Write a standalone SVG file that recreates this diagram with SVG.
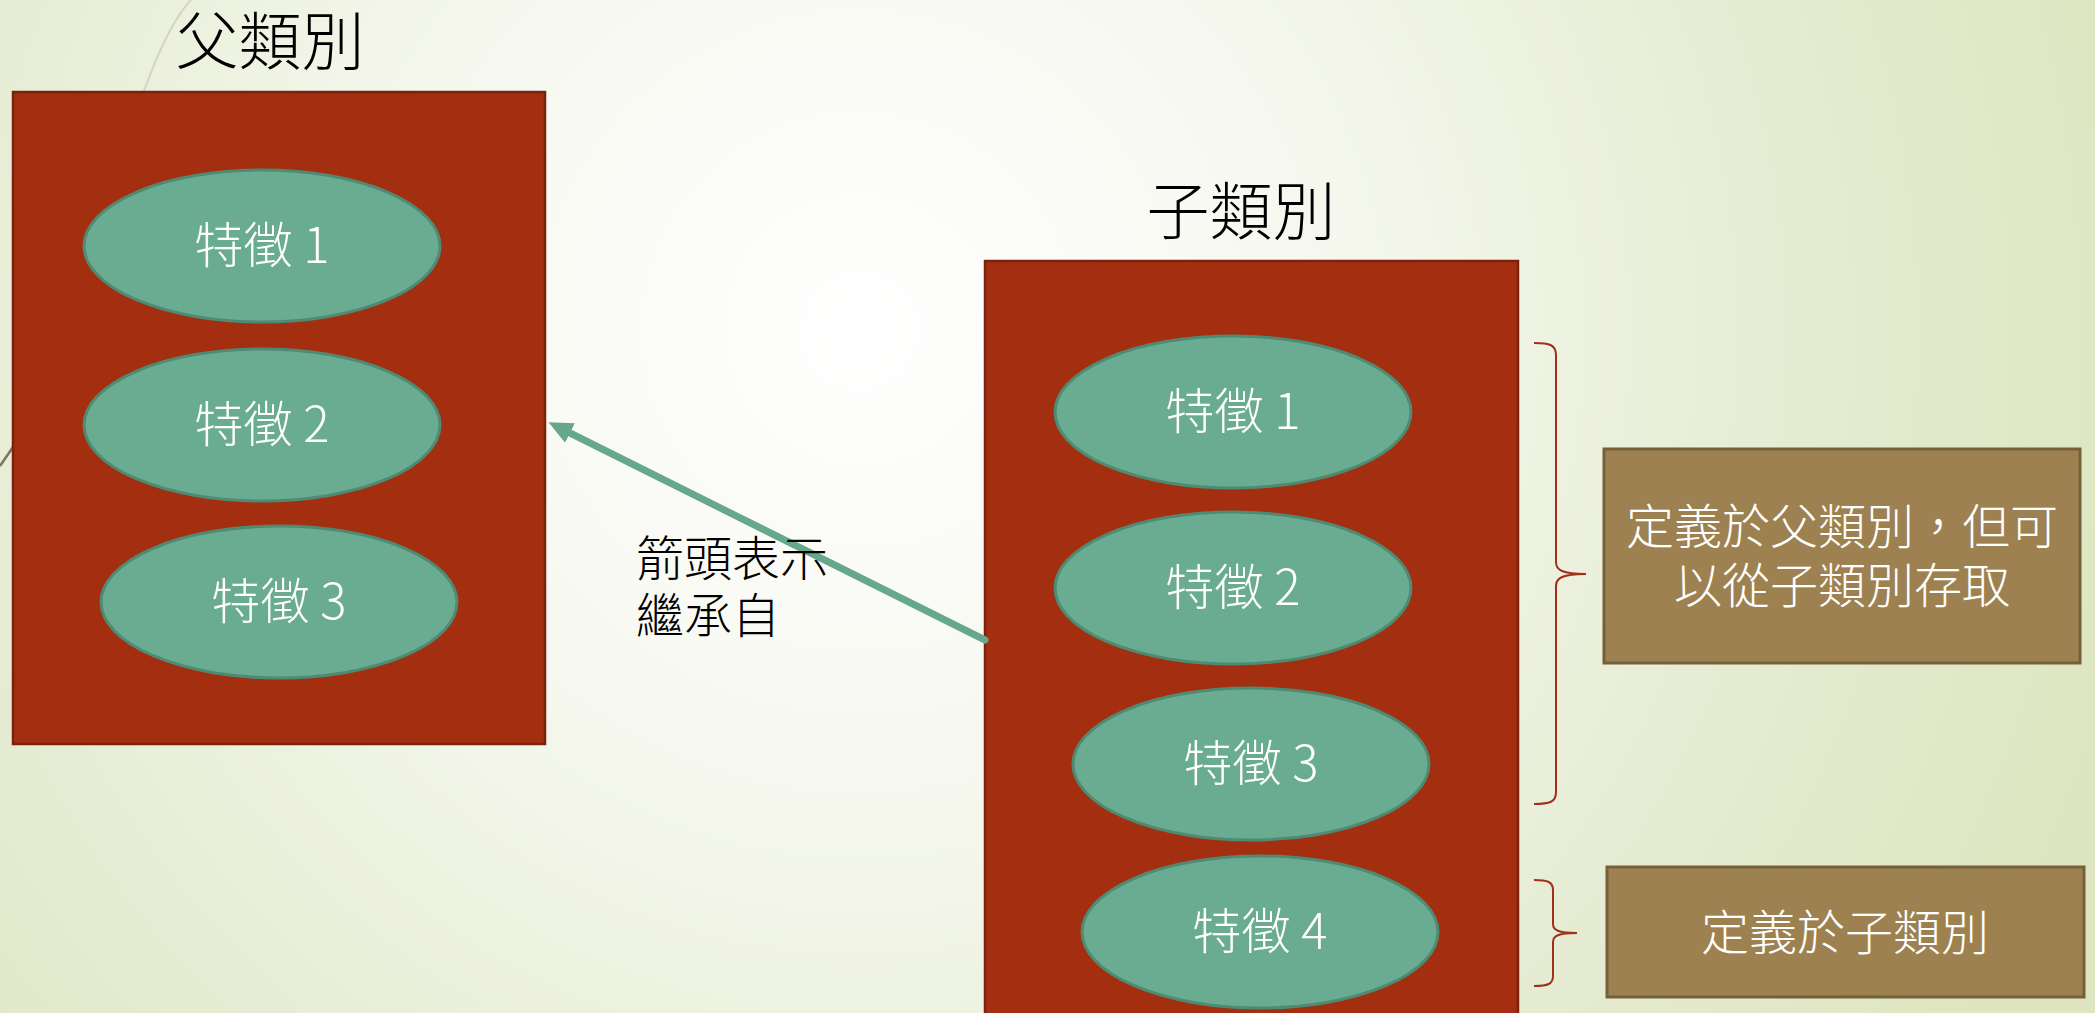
<svg xmlns="http://www.w3.org/2000/svg" width="2095" height="1013" viewBox="0 0 2095 1013">
  <defs>
    <radialGradient id="bg" cx="860" cy="330" r="1300" gradientUnits="userSpaceOnUse">
      <stop offset="0" stop-color="#FFFFFF"/>
      <stop offset="0.35" stop-color="#F6F8EF"/>
      <stop offset="0.75" stop-color="#E4EBD0"/>
      <stop offset="1" stop-color="#DDE6C0"/>
    </radialGradient>
    <marker id="head" viewBox="0 0 24 22" refX="0" refY="11" markerWidth="24" markerHeight="22" markerUnits="userSpaceOnUse" orient="auto">
      <path d="M0,0 L24,11 L0,22 z" fill="#67A88C"/>
    </marker>
    <style>
      .cls { fill: #A32E10; stroke: #7A220C; stroke-width: 2.5; }
      .feat { fill: #6AAC91; stroke: #4F8A72; stroke-width: 3; }
      .ftxt { fill: #FFFFFF; font-family: "Noto Sans CJK TC", "Noto Sans", sans-serif; font-weight: 300; font-size: 49px; text-anchor: middle; }
      .title { fill: #000000; font-family: "Noto Sans CJK TC", "Noto Sans", sans-serif; font-weight: 300; font-size: 63px; text-anchor: middle; }
      .note { fill: #9E8150; stroke: #76603A; stroke-width: 3; }
      .ntxt { fill: #FFFFFF; font-family: "Noto Sans CJK TC", sans-serif; font-weight: 300; font-size: 48px; text-anchor: middle; }
      .brace { fill: none; stroke: #A0301A; stroke-width: 2; }
      .lbl { fill: #000000; font-family: "Noto Sans CJK TC", sans-serif; font-weight: 300; font-size: 48px; }
    </style>
  </defs>

  <rect x="0" y="0" width="2095" height="1013" fill="url(#bg)"/>
  <path d="M191,0 C130,62 83,347 13,447 L0,466" fill="none" stroke="#D2D5C4" stroke-width="2"/>
  <path d="M0,466 L13,447" fill="none" stroke="#7F7560" stroke-width="2.5"/>

  <g id="parent-class">
    <text class="title" x="270" y="64">父類別</text>
    <rect class="cls" x="13" y="92" width="532" height="652"/>
  </g>
  <g id="parent-feature-1">
    <ellipse class="feat" cx="262" cy="246" rx="178" ry="76"/>
    <text class="ftxt" x="262" y="263">特徵 1</text>
  </g>
  <g id="parent-feature-2">
    <ellipse class="feat" cx="262" cy="425" rx="178" ry="76"/>
    <text class="ftxt" x="262" y="442">特徵 2</text>
  </g>
  <g id="parent-feature-3">
    <ellipse class="feat" cx="279" cy="602" rx="178" ry="76"/>
    <text class="ftxt" x="279" y="619">特徵 3</text>
  </g>

  <g id="child-class">
    <text class="title" x="1241" y="234">子類別</text>
    <rect class="cls" x="985" y="261" width="533" height="770"/>
  </g>
  <g id="child-feature-1">
    <ellipse class="feat" cx="1233" cy="412" rx="178" ry="76"/>
    <text class="ftxt" x="1233" y="429">特徵 1</text>
  </g>
  <g id="child-feature-2">
    <ellipse class="feat" cx="1233" cy="588" rx="178" ry="76"/>
    <text class="ftxt" x="1233" y="605">特徵 2</text>
  </g>
  <g id="child-feature-3">
    <ellipse class="feat" cx="1251" cy="764" rx="178" ry="76"/>
    <text class="ftxt" x="1251" y="781">特徵 3</text>
  </g>
  <g id="child-feature-4">
    <ellipse class="feat" cx="1260" cy="932" rx="178" ry="76"/>
    <text class="ftxt" x="1260" y="949">特徵 4</text>
  </g>

  <g id="note-inherited">
    <rect class="note" x="1604" y="449" width="476" height="214"/>
    <text class="ntxt" x="1842" y="544">定義於父類別，但可</text>
    <text class="ntxt" x="1842" y="603">以從子類別存取</text>
  </g>
  <g id="note-own">
    <rect class="note" x="1607" y="867" width="477" height="130"/>
    <text class="ntxt" x="1845" y="950">定義於子類別</text>
  </g>

  <g id="connectors">
    <line x1="985" y1="640" x2="570" y2="433" stroke="#67A88C" stroke-width="7" stroke-linecap="round" marker-end="url(#head)"/>
    <text class="lbl" x="636" y="576">箭頭表示</text>
    <text class="lbl" x="636" y="633">繼承自</text>
    <path class="brace" d="M1534,343 C1550,343 1556,345 1556,355 L1556,562 C1556,570 1562,574 1586,574 C1562,574 1556,578 1556,586 L1556,792 C1556,802 1550,804 1534,804"/>
    <path class="brace" d="M1534,880 C1548,880 1553,882 1553,890 L1553,924 C1553,930 1558,933 1577,933 C1558,933 1553,936 1553,942 L1553,976 C1553,984 1548,986 1534,986"/>
  </g>
</svg>
